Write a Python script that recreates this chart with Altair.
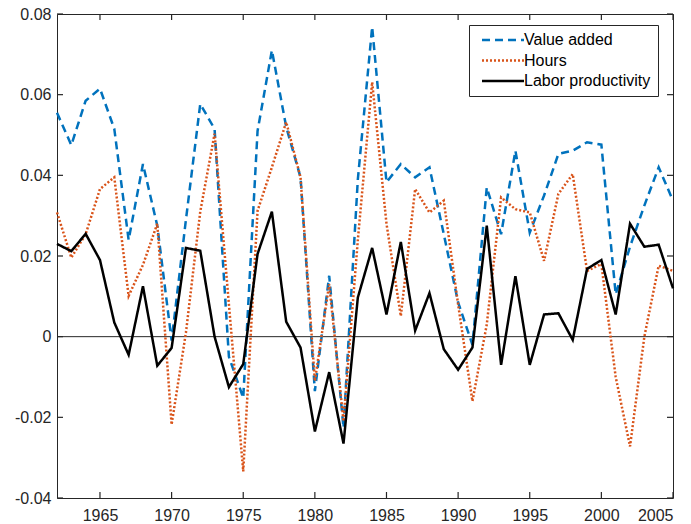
import altair as alt
import pandas as pd

years = list(range(1962, 2006))

value_added = [
    0.0555, 0.0475, 0.0585, 0.0615, 0.0515, 0.0240, 0.0428, 0.0275, -0.0010, 0.0290,
    0.0577, 0.0515, -0.0050, -0.0152, 0.0510, 0.0710, 0.0520, 0.0395, -0.0135, 0.0151,
    -0.0226, 0.0390, 0.0768, 0.0383, 0.0428, 0.0395, 0.0420, 0.0254, 0.0085, -0.0020,
    0.0370, 0.0254, 0.0461, 0.0258, 0.0350, 0.0453, 0.0461, 0.0482, 0.0476, 0.0105,
    0.0223, 0.0325, 0.0420, 0.0337,
]

hours = [
    0.0308, 0.0196, 0.0254, 0.0366, 0.0395, 0.0101, 0.0178, 0.0280, -0.0218, 0.0010,
    0.0310, 0.0503, 0.0080, -0.0334, 0.0312, 0.0420, 0.0532, 0.0395, -0.0110, 0.0130,
    -0.0210, 0.0240, 0.0631, 0.0280, 0.0051, 0.0366, 0.0308, 0.0337, 0.0080, -0.0160,
    0.0030, 0.0345, 0.0316, 0.0308, 0.0188, 0.0354, 0.0403, 0.0163, 0.0180, -0.0100,
    -0.0272, 0.0000, 0.0176, 0.0163,
]

labor_productivity = [
    0.0230, 0.0212, 0.0255, 0.0190, 0.0035, -0.0045, 0.0125, -0.0072, -0.0028, 0.0220,
    0.0213, 0.0000, -0.0125, -0.0068, 0.0205, 0.0310, 0.0037, -0.0027, -0.0235, -0.0088,
    -0.0265, 0.0097, 0.0220, 0.0055, 0.0235, 0.0015, 0.0108, -0.0031, -0.0082, -0.0027,
    0.0275, -0.0070, 0.0150, -0.0070, 0.0055, 0.0058, -0.0008, 0.0168, 0.0190, 0.0055,
    0.0280, 0.0223, 0.0228, 0.0120,
]

series_names = ["Value added", "Hours", "Labor productivity"]
series_colors = ["#0072BD", "#D95319", "#000000"]
series_dashes = [[8, 5], [2, 2], [1, 0]]

x_domain = [1962, 2005]
y_domain = [-0.04, 0.08]
x_ticks = [1965, 1970, 1975, 1980, 1985, 1990, 1995, 2000, 2005]
y_ticks = [-0.04, -0.02, 0, 0.02, 0.04, 0.06, 0.08]
zero_level = [0.0]

rows = []
for name, vals in zip(series_names, [value_added, hours, labor_productivity]):
    for yr, v in zip(years, vals):
        rows.append({"year": yr, "value": v, "series": name})
df = pd.DataFrame(rows)
zero_df = pd.DataFrame({"zero": zero_level})
xtick_df = pd.DataFrame({"t": x_ticks, "lo": y_domain[0], "hi": y_domain[1]})
ytick_df = pd.DataFrame({"t": y_ticks, "lo": x_domain[0], "hi": x_domain[1]})

FONT = "Liberation Sans"
AX = "#262626"

xscale = alt.Scale(domain=x_domain, nice=False, zero=False)
yscale = alt.Scale(domain=y_domain, nice=False, zero=False)

legend = alt.Legend(
    title=None, orient="none", legendX=412, legendY=11,
    strokeColor=AX, fillColor="white", padding=7,
    labelFont=FONT, labelFontSize=16, labelColor="black",
    symbolType="M-5,0H5", symbolSize=70.56, symbolStrokeWidth=2.5,
    symbolOffset=19, labelOffset=13, rowPadding=4.5,
)

color = alt.Color("series:N", scale=alt.Scale(domain=series_names, range=series_colors),
                  legend=legend)
dash = alt.StrokeDash("series:N", scale=alt.Scale(domain=series_names, range=series_dashes),
                      legend=legend)

common_ax = dict(domain=False, grid=False, title=None, ticks=False, offset=0, zindex=0,
                 labelFont=FONT, labelFontSize=16, labelColor=AX)

x_axis = alt.Axis(orient="bottom", values=x_ticks, format="d", labelPadding=9, **common_ax)
y_axis = alt.Axis(orient="left", values=y_ticks, labelPadding=6,
                  labelExpr="datum.value == 0 ? '0' : (datum.value < 0 ? '-' : '') + format(abs(datum.value), '.2f')",
                  **common_ax)


def X(field):
    return alt.X(field, scale=xscale, axis=x_axis)


def Y(field):
    return alt.Y(field, scale=yscale, axis=y_axis)


zero_rule = alt.Chart(zero_df).mark_rule(color=AX, strokeWidth=1).encode(y=Y("zero:Q"))

# inward tick marks on all four sides (MATLAB box style), drawn as short rules
rule_style = dict(color=AX, strokeWidth=1.2, opacity=1)
tick_bottom = alt.Chart(xtick_df).mark_rule(y2Offset=-6, **rule_style).encode(
    x=X("t:Q"), y=Y("lo:Q"), y2=alt.Y2("lo:Q"))
tick_top = alt.Chart(xtick_df).mark_rule(y2Offset=6, **rule_style).encode(
    x=X("t:Q"), y=Y("hi:Q"), y2=alt.Y2("hi:Q"))
tick_left = alt.Chart(ytick_df).mark_rule(x2Offset=6, **rule_style).encode(
    y=Y("t:Q"), x=X("lo:Q"), x2=alt.X2("lo:Q"))
tick_right = alt.Chart(ytick_df).mark_rule(x2Offset=-6, **rule_style).encode(
    y=Y("t:Q"), x=X("hi:Q"), x2=alt.X2("hi:Q"))

layers = [zero_rule]
for name in series_names:
    layers.append(
        alt.Chart(df)
        .transform_filter(alt.datum.series == name)
        .mark_line(strokeWidth=2.5)
        .encode(x=X("year:Q"), y=Y("value:Q"), color=color, strokeDash=dash)
    )
layers += [tick_bottom, tick_top, tick_left, tick_right]

chart = (
    alt.layer(*layers)
    .properties(
        width=616, height=484,
        autosize=alt.AutoSizeParams(type="none"),
        padding={"left": 57, "top": 14, "right": 18, "bottom": 26},
        background="white",
    )
    .configure_view(stroke=AX, strokeWidth=1)
)

chart.save("out.html", embed_options={"renderer": "svg", "actions": False})
